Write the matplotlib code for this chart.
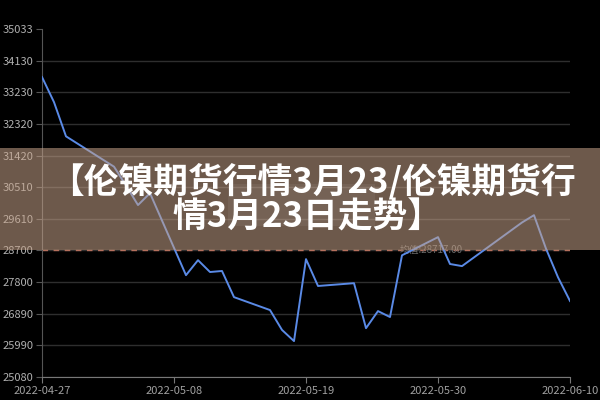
import matplotlib
matplotlib.use("Agg")
import matplotlib.pyplot as plt
from matplotlib.patches import Rectangle
import pandas as pd
import numpy as np

plt.rcParams['font.family'] = ['Noto Sans CJK SC', 'DejaVu Sans']

# data (LME nickel closes)
dates = ['2022-04-27', '2022-04-28', '2022-04-29', '2022-05-03', '2022-05-04',
         '2022-05-05', '2022-05-06', '2022-05-09', '2022-05-10', '2022-05-11',
         '2022-05-12', '2022-05-13', '2022-05-16', '2022-05-17', '2022-05-18',
         '2022-05-19', '2022-05-20', '2022-05-23', '2022-05-24', '2022-05-25',
         '2022-05-26', '2022-05-27', '2022-05-30', '2022-05-31', '2022-06-01',
         '2022-06-06', '2022-06-07', '2022-06-08', '2022-06-09', '2022-06-10']
prices = [33670, 32950, 31970, 31100, 30560,
          30000, 30340, 27990, 28420, 28080,
          28110, 27360, 26990, 26420, 26100,
          28450, 27680, 27760, 26470, 26960,
          26790, 28560, 29080, 28310, 28250,
          29500, 29710, 28750, 27930, 27250]

y_ticks = [25080, 25990, 26890, 27800, 28700, 29610, 30510, 31420, 32320, 33230, 34130, 35033]
x_ticks = ['2022-04-27', '2022-05-08', '2022-05-19', '2022-05-30', '2022-06-10']

title_line1 = '【伦镍期货行情3月23/伦镍期货行'
title_line2 = '情3月23日走势】'

x = pd.to_datetime(dates)
mean_val = np.mean(prices)

fig = plt.figure(figsize=(6, 4), dpi=100, facecolor='black')
ax = fig.add_axes([0.07, 0.0583, 0.88, 0.868], facecolor='black')

ax.plot(x, prices, color='#5a8ae6', linewidth=1.4, zorder=3)

# average mark line
ax.axhline(mean_val, color='#d9826a', linestyle=(0, (4, 4)), linewidth=1, alpha=0.8, zorder=2)
ax.text(pd.Timestamp('2022-05-26 20:00'), mean_val, '均值:%.2f' % mean_val,
        color='#6a6a6a', fontsize=7, va='center', ha='left', zorder=2)

ax.set_ylim(y_ticks[0], y_ticks[-1])
ax.set_xlim(pd.Timestamp(x_ticks[0]), pd.Timestamp(x_ticks[-1]))
ax.set_yticks(y_ticks)
ax.set_yticklabels([str(v) for v in y_ticks])
ax.set_xticks(pd.to_datetime(x_ticks))
ax.set_xticklabels(x_ticks)

ax.yaxis.grid(True, color='#2e2e2e', linewidth=1)
ax.get_ygridlines()[-1].set_visible(False)
ax.set_axisbelow(True)

for s in ['top', 'right']:
    ax.spines[s].set_visible(False)
ax.spines['left'].set_color('#555555')
ax.spines['bottom'].set_color('#777777')
ax.tick_params(axis='y', colors='#555555', labelcolor='#b0b0b0', labelsize=8, length=4, pad=2)
ax.tick_params(axis='x', colors='#777777', labelcolor='#a0a0a0', labelsize=8, length=4, pad=3)

# translucent banner over the chart
fig.patches.append(Rectangle((0, 0.375), 1, 0.255, transform=fig.transFigure,
                             facecolor='#c8a48a', alpha=0.55, zorder=10))
fig.patches.append(Rectangle((228 / 600, 1 - 226 / 400), 147 / 600, 42 / 400,
                             transform=fig.transFigure, facecolor='white',
                             alpha=0.06, zorder=11))

fig.text(0.52, 1 - 181 / 400, title_line1, color='white', fontsize=25,
         fontweight='heavy', ha='center', va='center', zorder=12)
fig.text(0.512, 1 - 217 / 400, title_line2, color='white', fontsize=25,
         fontweight='heavy', ha='center', va='center', zorder=12)

fig.savefig('out.png', dpi=100, facecolor='black')
